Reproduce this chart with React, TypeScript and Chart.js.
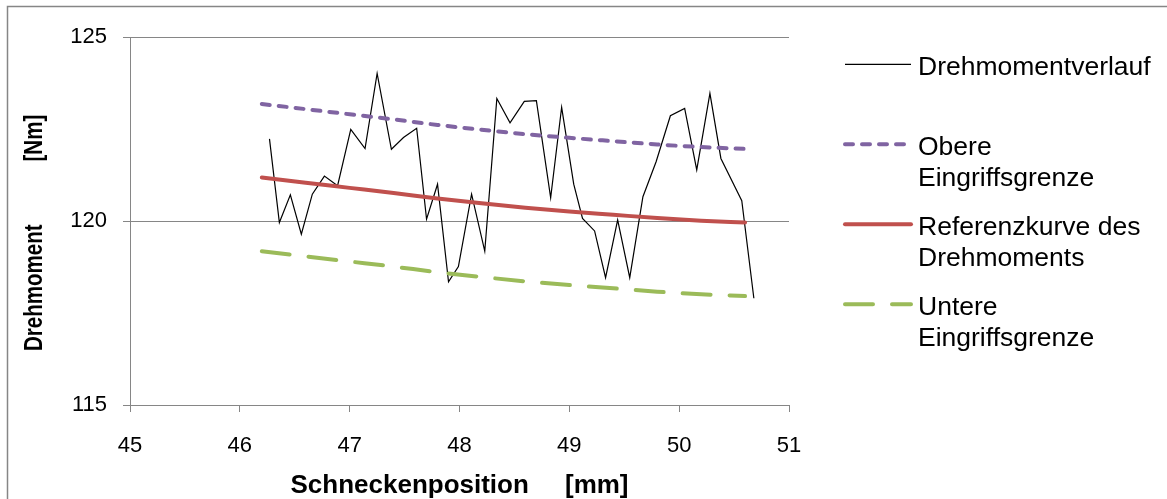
import React, { useEffect, useRef } from 'react';
import { Chart, registerables } from 'chart.js';

Chart.register(...registerables);

// Drehmomentverlauf (measured torque)
const positions = [
  46.27, 46.36, 46.46, 46.56, 46.66, 46.77, 46.89, 47.01, 47.14, 47.25,
  47.38, 47.49, 47.61, 47.70, 47.80, 47.90, 47.99, 48.11, 48.23, 48.34,
  48.46, 48.59, 48.70, 48.83, 48.93, 49.04, 49.12, 49.23, 49.33, 49.44,
  49.55, 49.67, 49.79, 49.92, 50.05, 50.16, 50.28, 50.38, 50.57, 50.68,
];
const torque = [
  122.23, 119.96, 120.71, 119.64, 120.73, 121.22, 120.96, 122.49, 121.97, 124.01,
  121.95, 122.27, 122.52, 120.05, 121.0, 118.35, 118.76, 120.73, 119.18, 123.33,
  122.67, 123.25, 123.27, 120.63, 123.09, 121.0, 120.07, 119.73, 118.46, 120.03,
  118.46, 120.66, 121.61, 122.86, 123.06, 121.39, 123.47, 121.7, 120.55, 117.9,
];

// Reference curve and control limits
const refPositions = [46.2, 46.6, 47.0, 47.4, 47.8, 48.2, 48.6, 49.0, 49.4, 49.8, 50.2, 50.6];
const referenceCurve = [121.18, 121.04, 120.9, 120.76, 120.61, 120.48, 120.36, 120.26, 120.17, 120.08, 120.01, 119.96];
const upperLimit = [123.18, 123.04, 122.9, 122.76, 122.61, 122.48, 122.36, 122.26, 122.17, 122.08, 122.01, 121.96];
const lowerLimit = [119.18, 119.04, 118.9, 118.76, 118.61, 118.48, 118.36, 118.26, 118.17, 118.08, 118.01, 117.96];

const seriesNames = [
  'Drehmomentverlauf',
  'Obere Eingriffsgrenze',
  'Referenzkurve des Drehmoments',
  'Untere Eingriffsgrenze',
];
const legendLines = [
  ['Drehmomentverlauf'],
  ['Obere', 'Eingriffsgrenze'],
  ['Referenzkurve des', 'Drehmoments'],
  ['Untere', 'Eingriffsgrenze'],
];

const xMin = 45;
const xMax = 51;
const xStep = 1;
const yMin = 115;
const yMax = 125;
const yStep = 5;

const xTitle = 'Schneckenposition     [mm]';
const yTitle = 'Drehmoment           [Nm]';

const AXIS_GRAY = '#868686';
const FONT = '"Liberation Sans", Arial, sans-serif';

const toPoints = (xs: number[], ys: number[]) => xs.map((x, i) => ({ x, y: ys[i] }));

const framePlugin = {
  id: 'frame',
  beforeDraw(chart: any) {
    const ctx = chart.ctx;
    ctx.save();
    ctx.fillStyle = '#ffffff';
    ctx.fillRect(0, 0, chart.width, chart.height);
    ctx.strokeStyle = AXIS_GRAY;
    ctx.lineWidth = 1.5;
    ctx.beginPath();
    ctx.moveTo(7.5, chart.height + 2);
    ctx.lineTo(7.5, 6.5);
    ctx.lineTo(chart.width + 2, 6.5);
    ctx.stroke();
    ctx.restore();
  },
};

const yTitlePlugin = {
  id: 'yTitleCompressed',
  afterDraw(chart: any) {
    const ctx = chart.ctx;
    ctx.save();
    ctx.font = 'bold 26px ' + FONT;
    ctx.fillStyle = '#000000';
    ctx.textBaseline = 'middle';
    ctx.textAlign = 'left';
    ctx.translate(35, 351);
    ctx.rotate(-Math.PI / 2);
    ctx.scale(0.79, 1);
    ctx.fillText(yTitle, 0, 0);
    ctx.restore();
  },
};

const sideLegendPlugin = {
  id: 'sideLegend',
  afterDraw(chart: any) {
    const ctx = chart.ctx;
    const datasets = chart.data.datasets;
    const lineX0 = 845;
    const lineX1 = 911;
    const textX = 918;
    const firstY = 68;
    const itemGap = 80;
    const lineGap = 31;
    ctx.save();
    ctx.font = '26.5px ' + FONT;
    ctx.textBaseline = 'middle';
    ctx.textAlign = 'left';
    legendLines.forEach((lines, i) => {
      const ds = datasets[i];
      const y = firstY + i * itemGap;
      ctx.save();
      ctx.strokeStyle = ds.borderColor;
      ctx.lineWidth = ds.borderWidth;
      ctx.lineCap = ds.borderCapStyle || 'butt';
      ctx.setLineDash(ds.borderDash || []);
      ctx.beginPath();
      ctx.moveTo(lineX0, y - 3.7);
      ctx.lineTo(lineX1, y - 3.7);
      ctx.stroke();
      ctx.restore();
      ctx.fillStyle = '#000000';
      lines.forEach((t, j) => {
        ctx.fillText(t, textX, y + j * lineGap);
      });
    });
    ctx.restore();
  },
};

export default function App() {
  const canvasRef = useRef<HTMLCanvasElement | null>(null);

  useEffect(() => {
    document.body.style.margin = '0';
    const canvas = canvasRef.current;
    if (!canvas) return;
    const chart = new Chart(canvas, {
      type: 'line',
      data: {
        datasets: [
          {
            label: seriesNames[0],
            data: toPoints(positions, torque),
            borderColor: '#000000',
            borderWidth: 1.2,
            pointRadius: 0,
            tension: 0,
            fill: false,
            order: 4,
          },
          {
            label: seriesNames[1],
            data: toPoints(refPositions, upperLimit),
            borderColor: '#8064A2',
            borderWidth: 4,
            borderDash: [8, 9],
            borderCapStyle: 'round',
            pointRadius: 0,
            tension: 0.4,
            cubicInterpolationMode: 'monotone',
            fill: false,
            order: 3,
          },
          {
            label: seriesNames[2],
            data: toPoints(refPositions, referenceCurve),
            borderColor: '#C0504D',
            borderWidth: 4,
            borderCapStyle: 'round',
            pointRadius: 0,
            tension: 0.4,
            cubicInterpolationMode: 'monotone',
            fill: false,
            order: 2,
          },
          {
            label: seriesNames[3],
            data: toPoints(refPositions, lowerLimit),
            borderColor: '#9BBB59',
            borderWidth: 4,
            borderDash: [28, 19],
            borderCapStyle: 'round',
            pointRadius: 0,
            tension: 0.4,
            cubicInterpolationMode: 'monotone',
            fill: false,
            order: 1,
          },
        ],
      },
      options: {
        responsive: false,
        animation: false,
        events: [],
        layout: { padding: { top: 37, right: 378, left: 0, bottom: 0 } },
        plugins: {
          legend: { display: false },
          tooltip: { enabled: false },
          title: { display: false },
        },
        scales: {
          x: {
            type: 'linear',
            min: xMin,
            max: xMax,
            afterFit: (scale: any) => {
              scale.height = 94;
            },
            ticks: {
              stepSize: xStep,
              padding: 21,
              color: '#000000',
              font: { size: 22, family: FONT },
              maxRotation: 0,
            },
            grid: {
              display: true,
              drawOnChartArea: false,
              drawTicks: true,
              tickLength: 7,
              color: AXIS_GRAY,
            },
            border: { display: true, color: AXIS_GRAY, width: 1 },
            title: {
              display: true,
              text: xTitle,
              color: '#000000',
              font: { size: 26, weight: 'bold', family: FONT, lineHeight: 1 },
              padding: { top: 0, bottom: 0 },
            },
          },
          y: {
            type: 'linear',
            min: yMin,
            max: yMax,
            afterFit: (scale: any) => {
              scale.width = 130;
            },
            ticks: {
              stepSize: yStep,
              padding: 16,
              color: '#000000',
              font: { size: 22, family: FONT },
            },
            grid: {
              display: true,
              drawTicks: true,
              tickLength: 7,
              color: AXIS_GRAY,
            },
            border: { display: true, color: AXIS_GRAY, width: 1 },
            title: { display: false },
          },
        },
      },
      plugins: [framePlugin, yTitlePlugin, sideLegendPlugin],
    } as any);
    return () => {
      chart.destroy();
    };
  }, []);

  return (
    <div style={{ width: 1167, height: 499 }}>
      <canvas ref={canvasRef} width={1167} height={499} style={{ display: 'block', width: 1167, height: 499 }} />
    </div>
  );
}
